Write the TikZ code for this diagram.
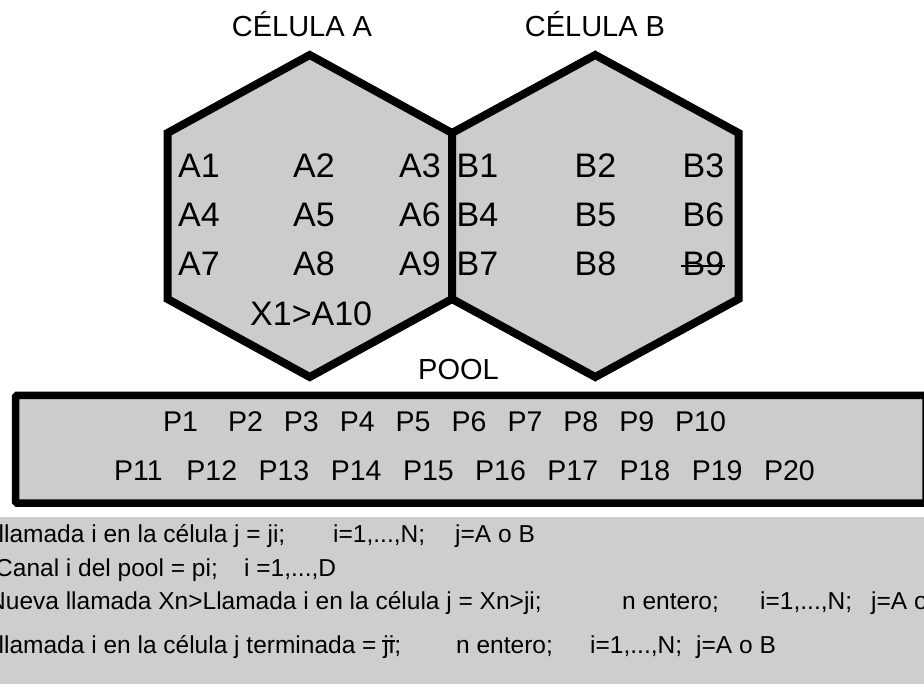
\documentclass[tikz,border=0pt]{standalone}
\usepackage{fontspec}
\setmainfont{Liberation Sans}
\definecolor{cellgray}{RGB}{204,204,204}
\definecolor{notegray}{RGB}{206,206,206}
% struck-through text: #1 = bar height above baseline, #2 = text
\newsavebox\tachadobox
\newcommand\tachado[2]{\sbox\tachadobox{#2}%
  \rlap{\kern-1.5pt\rule[#1]{\dimexpr\wd\tachadobox+2.5pt\relax}{1.6pt}}\usebox\tachadobox}
\begin{document}
\begin{tikzpicture}[x=1pt,y=-1pt,
  hexcell/.style={line width=8pt, line join=miter, draw=black, fill=cellgray},
  poolbox/.style={line width=7.5pt, draw=black, fill=cellgray, rounded corners=1.5pt},
  title/.style={anchor=base, inner sep=0pt, font=\fontsize{29}{34}\selectfont},
  chan/.style={anchor=base west, inner sep=0pt, font=\fontsize{34}{40}\selectfont},
  pch/.style={anchor=base west, inner sep=0pt, font=\fontsize{28.5}{32}\selectfont},
  note/.style={anchor=base west, inner sep=0pt, font=\fontsize{24.5}{29}\selectfont}]
\useasboundingbox (0,0) rectangle (924,684);
\clip (0,0) rectangle (924,684);

% legend background
\fill[notegray] (0,517) rectangle (924,684);

% cell A
\coordinate (a-n) at (309.75,55);
\coordinate (a-ne) at (452,133);
\coordinate (a-se) at (452,299);
\coordinate (a-s) at (309.75,377);
\coordinate (a-sw) at (167.5,299);
\coordinate (a-nw) at (167.5,133);
\path[hexcell] (a-n) -- (a-ne) -- (a-se) -- (a-s) -- (a-sw) -- (a-nw) -- cycle;

% cell B
\coordinate (b-n) at (595.25,55);
\coordinate (b-ne) at (738.5,133);
\coordinate (b-se) at (738.5,299);
\coordinate (b-s) at (595.25,377);
\coordinate (b-sw) at (452,299);
\coordinate (b-nw) at (452,133);
\path[hexcell] (b-n) -- (b-ne) -- (b-se) -- (b-s) -- (b-sw) -- (b-nw) -- cycle;

% pool of shared channels
\path[poolbox] (15.5,395.5) rectangle (926,503);

% titles
\node[title] (titA) at (302,37) {CÉLULA A};
\node[title] (titB) at (595,37) {CÉLULA B};
\node[title] (titP) at (458.5,380) {POOL};

% channels of cell A
\node[chan] (A1) at (178,178) {A1};
\node[chan] (A2) at (293,178) {A2};
\node[chan] (A3) at (399,178) {A3};
\node[chan] (A4) at (178,227) {A4};
\node[chan] (A5) at (293,227) {A5};
\node[chan] (A6) at (399,227) {A6};
\node[chan] (A7) at (178,276) {A7};
\node[chan] (A8) at (293,276) {A8};
\node[chan] (A9) at (399,276) {A9};
\node[chan] (X1) at (250,326) {X1>A10};

% channels of cell B
\node[chan] (B1) at (456.5,178) {B1};
\node[chan] (B2) at (574.5,178) {B2};
\node[chan] (B3) at (682.5,178) {B3};
\node[chan] (B4) at (456.5,227) {B4};
\node[chan] (B5) at (574.5,227) {B5};
\node[chan] (B6) at (682.5,227) {B6};
\node[chan] (B7) at (456.5,276) {B7};
\node[chan] (B8) at (574.5,276) {B8};
\node[chan] (B9) at (682.5,276) {\tachado{9pt}{B9}};

% pool channels
\foreach \n/\x in {1/163,2/228,3/283.7,4/339.6,5/395.5,6/451.4,7/507.3,8/563.2,9/619.1,10/675}
  \node[pch] (P\n) at (\x,432) {P\n};
\foreach \n/\x in {11/114,12/186.2,13/258.4,14/330.6,15/402.8,16/475,17/547.2,18/619.4,19/691.6,20/763.8}
  \node[pch] (P\n) at (\x,480) {P\n};

% legend
\node[note] (l1a) at (-1.5,542) {llamada i en la célula j = ji;};
\node[note] (l1b) at (333,542) {i=1,...,N;};
\node[note] (l1c) at (455,542) {j=A o B};
\node[note] (l2a) at (-5,576) {Canal i del pool = pi;};
\node[note] (l2b) at (244,576) {i =1,...,D};
\node[note] (l3a) at (-12,609) {Nueva llamada Xn>Llamada i en la célula j = Xn>ji;};
\node[note] (l3b) at (622,609) {n entero;};
\node[note] (l3c) at (760,609) {i=1,...,N;};
\node[note] (l3d) at (871,609) {j=A o B};
\node[note] (l4a) at (-1.5,653) {llamada i en la célula j terminada = \tachado{11pt}{ji};};
\node[note] (l4b) at (456,653) {n entero;};
\node[note] (l4c) at (590,653) {i=1,...,N;};
\node[note] (l4d) at (696,653) {j=A o B};
\end{tikzpicture}
\end{document}
